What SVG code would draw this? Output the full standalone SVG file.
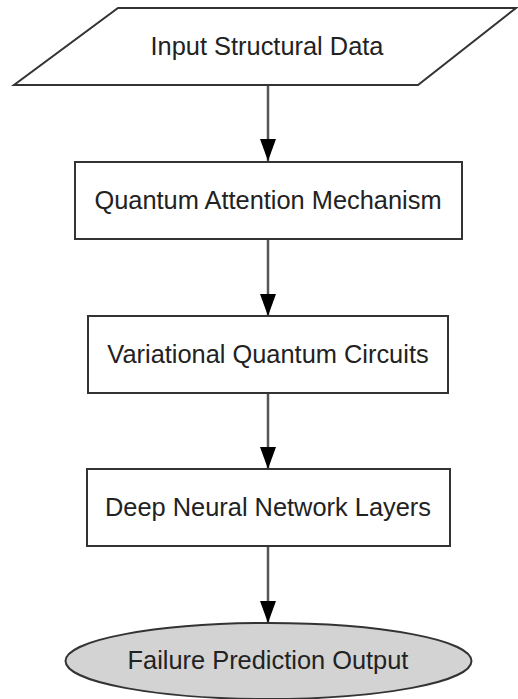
<svg xmlns="http://www.w3.org/2000/svg" width="518" height="699" viewBox="0 0 518 699">
<defs>
<style>
.node{fill:#fff;stroke:#333;stroke-width:2}
.out{fill:#d3d3d3;stroke:#333;stroke-width:2}
.lbl{font-family:"Liberation Sans",Arial,sans-serif;font-size:25.4px;fill:#222;text-anchor:middle}
.edge{stroke:#555;stroke-width:2.5;fill:none;marker-end:url(#ah)}
</style>
<marker id="ah" markerUnits="userSpaceOnUse" markerWidth="23" markerHeight="17" refX="22" refY="8" orient="auto" viewBox="0 0 23 17">
<path d="M0,0 L22,8 L0,16 z" fill="#000"/>
</marker>
</defs>
<rect width="518" height="699" fill="#fff"/>
<g id="connectors">
<path class="edge" d="M268,86 L268,161"/>
<path class="edge" d="M268,239 L268,316"/>
<path class="edge" d="M268,393 L268,469"/>
<path class="edge" d="M268,546 L268,623"/>
</g>
<g id="input">
<polygon class="node" points="118,8 516,8 418,85 14,85"/>
<text class="lbl" x="267" y="55">Input Structural Data</text>
</g>
<g id="attention">
<rect class="node" x="75" y="162" width="387" height="77"/>
<text class="lbl" x="268" y="209">Quantum Attention Mechanism</text>
</g>
<g id="vqc">
<rect class="node" x="88" y="316" width="360" height="77"/>
<text class="lbl" x="268" y="363">Variational Quantum Circuits</text>
</g>
<g id="dnn">
<rect class="node" x="87" y="469" width="363" height="77"/>
<text class="lbl" x="268" y="516">Deep Neural Network Layers</text>
</g>
<g id="output">
<ellipse class="out" cx="268.5" cy="661" rx="203" ry="38"/>
<text class="lbl" x="268" y="669">Failure Prediction Output</text>
</g>
</svg>
